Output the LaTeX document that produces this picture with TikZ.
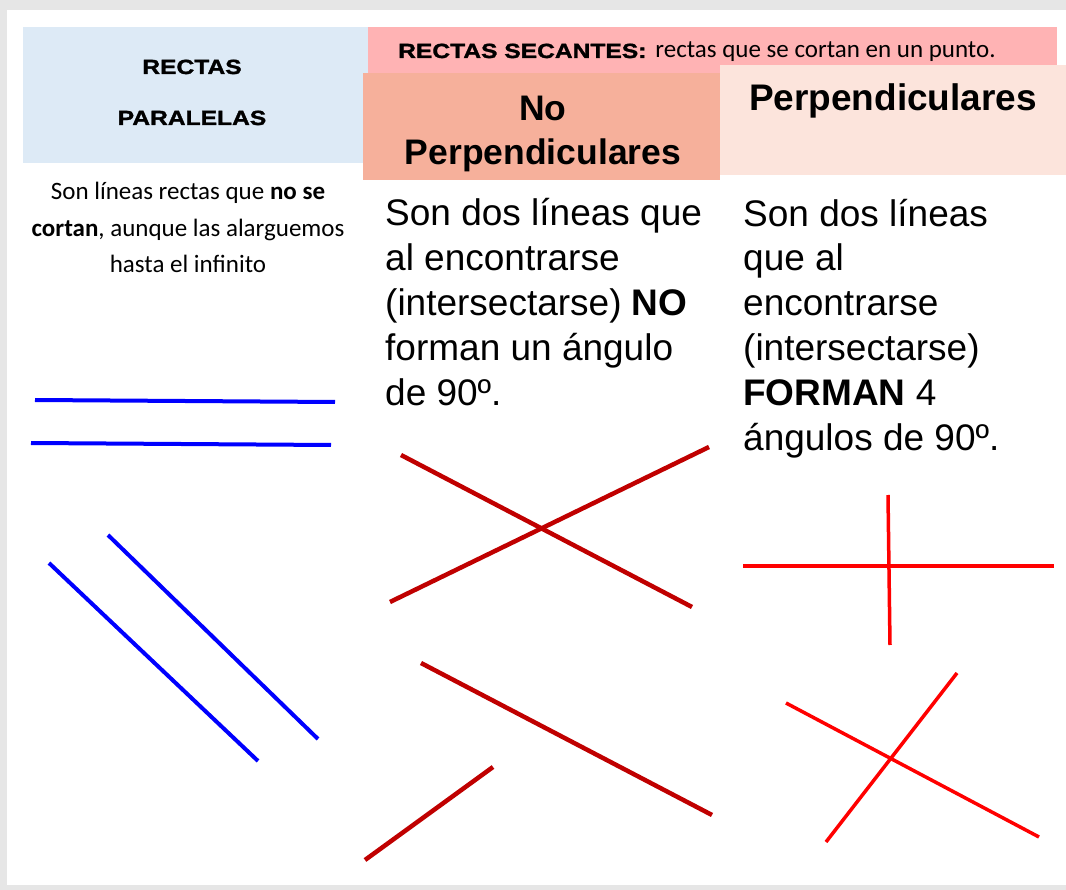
\documentclass[tikz,border=0pt]{standalone}
\usepackage{fontspec}
\setmainfont{Liberation Sans}
\newfontfamily\calibri{Carlito}
\newfontfamily\widefont[FakeStretch=1.2,BoldFeatures={FakeBold=1.5}]{Liberation Sans}
\definecolor{pagegrey}{HTML}{E6E6E6}
\definecolor{hdrblue}{HTML}{DDEAF6}
\definecolor{secpink}{HTML}{FFB3B4}
\definecolor{nopink}{HTML}{F6B09B}
\definecolor{perppink}{HTML}{FCE4DC}
\definecolor{lineblue}{HTML}{0000FF}
\definecolor{darkred}{HTML}{C00000}
\definecolor{brightred}{HTML}{FF0000}
\tikzset{
  blueline/.style={draw=lineblue,line width=4pt},
  darkline/.style={draw=darkred,line width=4.5pt},
  redline/.style={draw=brightred,line width=3.5pt},
  bodytext/.style={anchor=base west,align=left,inner sep=0pt,
    font=\fontsize{37}{45}\selectfont},
}
\begin{document}
\begin{tikzpicture}[x=1pt,y=-1pt]
      \useasboundingbox (0,0) rectangle (1066,890);
      \fill[pagegrey] (0,0) rectangle (1066,890);
      \fill[white] (7,10) rectangle (1066,885);
      \fill[hdrblue] (23,27) rectangle (368,163);
      \fill[secpink] (368,27) rectangle (1057,75);
      \fill[nopink] (363,73) rectangle (720,180);
      \fill[perppink] (720,65) rectangle (1066,175);
      % multi-line nodes sit on the baseline of their last line
      \node[anchor=base,align=center,inner sep=0pt,
        font=\widefont\bfseries\fontsize{20.5}{51}\selectfont]
        (paralelas) at (192,125) {RECTAS\\PARALELAS};
      \node[anchor=base west,inner sep=0pt] (secantes) at (398,58)
        {{\widefont\bfseries\fontsize{20.5}{25}\selectfont RECTAS SECANTES:}\hspace{9pt}%
         {\calibri\fontsize{25}{30}\selectfont rectas que se cortan en un punto.}};
      \node[anchor=base,align=center,inner sep=0pt,
        font=\bfseries\fontsize{35.5}{44.5}\selectfont]
        (noperp) at (543,165) {No\\Perpendiculares};
      \node[anchor=base,inner sep=0pt,font=\bfseries\fontsize{37}{44}\selectfont]
        (perp) at (893,111) {Perpendiculares};
      \node[anchor=base,align=center,inner sep=0pt,
        font=\calibri\fontsize{25}{36.5}\selectfont]
        (paradesc) at (188,273)
        {Son líneas rectas que \textbf{no se}\\\textbf{cortan}, aunque las alarguemos\\hasta el infinito};
      \node[bodytext] (nodesc) at (385,406)
        {Son dos líneas que\\al encontrarse\\(intersectarse) \textbf{NO}\\forman un ángulo\\de 90º.};
      \node[bodytext] (perpdesc) at (743,451)
        {Son dos líneas\\que al\\encontrarse\\(intersectarse)\\\textbf{FORMAN} 4\\ángulos de 90º.};
      \draw
        (35,400) coordinate (h1a)
        (335,402) coordinate (h1b)
        (31,443) coordinate (h2a)
        (331,445) coordinate (h2b)
        (49,563) coordinate (d1a)
        (258,761) coordinate (d1b)
        (108,535) coordinate (d2a)
        (318,739) coordinate (d2b);
      \draw
        (401,455) coordinate (xa1)
        (692,607) coordinate (xa2)
        (390,602) coordinate (xb1)
        (709,447) coordinate (xb2)
        (421,663) coordinate (ya1)
        (712,815) coordinate (ya2)
        (493,767) coordinate (yb1)
        (365,860) coordinate (yb2);
      \draw
        (888,495) coordinate (v1)
        (890,645) coordinate (v2)
        (743,566) coordinate (w1)
        (1054,566) coordinate (w2)
        (786,703) coordinate (za1)
        (1039,837) coordinate (za2)
        (957,673) coordinate (zb1)
        (826,842) coordinate (zb2);
      \begin{scope}[blueline]
        \draw (h1a) to (h1b);
        \draw (h2a) to (h2b);
        \draw (d1a) to (d1b);
        \draw (d2a) to (d2b);
      \end{scope}
      \begin{scope}[darkline]
        \draw (xa1) to (xa2);
        \draw (xb1) to (xb2);
        \draw (ya1) to (ya2);
        \draw (yb1) to (yb2);
      \end{scope}
      \begin{scope}[redline]
        \draw (v1) to (v2);
        \draw (w1) to (w2);
        \draw (za1) to (za2);
        \draw (zb1) to (zb2);
      \end{scope}
    \end{tikzpicture}
\end{document}
